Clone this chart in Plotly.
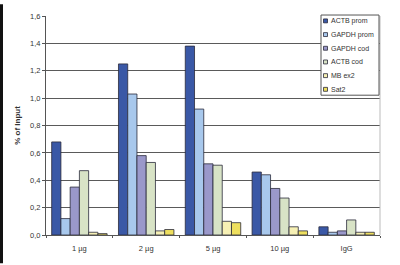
import plotly.graph_objects as go

categories = ["1 µg", "2 µg", "5 µg", "10 µg", "IgG"]
series_names = ["ACTB prom", "GAPDH prom", "GAPDH cod", "ACTB cod", "MB ex2", "Sat2"]
actb_prom = [0.68, 1.25, 1.38, 0.46, 0.06]
gapdh_prom = [0.12, 1.03, 0.92, 0.44, 0.02]
gapdh_cod = [0.35, 0.58, 0.52, 0.34, 0.03]
actb_cod = [0.47, 0.53, 0.51, 0.27, 0.11]
mb_ex2 = [0.02, 0.03, 0.10, 0.06, 0.02]
sat2 = [0.01, 0.04, 0.09, 0.03, 0.02]
y_ticks = [0.0, 0.2, 0.4, 0.6, 0.8, 1.0, 1.2, 1.4, 1.6]

colors = ["#3A58A6", "#A8C8EC", "#9A98CA", "#D8E3C6", "#F6F0B4", "#EEDF5E"]
values = [actb_prom, gapdh_prom, gapdh_cod, actb_cod, mb_ex2, sat2]
edge = "#2a2a3a"

fig = go.Figure()
for name, vals, col in zip(series_names, values, colors):
    fig.add_trace(go.Bar(
        x=categories, y=vals, name=name, showlegend=False,
        marker=dict(color=col, line=dict(color=edge, width=0.8)),
    ))

W, H = 400, 265
ml, mr, mt, mb = 46, 20, 12, 29
pw, ph = W - ml - mr, H - mt - mb


def px(x):
    return (x - ml) / pw


def py(y):
    return 1 - (y - mt) / ph


shapes = [
    dict(type="rect", xref="paper", yref="paper",
         x0=px(0), x1=px(3), y0=py(H), y1=py(0),
         fillcolor="#111", line=dict(width=0), layer="above"),
    dict(type="line", xref="paper", yref="paper",
         x0=1, x1=1, y0=0, y1=1, line=dict(color="#bbb", width=1)),
    dict(type="rect", xref="paper", yref="paper",
         x0=px(321), x1=px(379), y0=py(93), y1=py(11),
         fillcolor="white", line=dict(color="#555", width=1), layer="above"),
]
annotations = []
for i, (name, col) in enumerate(zip(series_names, colors)):
    yc = 17 + i * 14
    shapes.append(dict(type="rect", xref="paper", yref="paper",
                       x0=px(323.5), x1=px(327.5), y0=py(yc + 2), y1=py(yc - 2),
                       fillcolor=col, line=dict(color=edge, width=0.8), layer="above"))
    annotations.append(dict(xref="paper", yref="paper", x=px(329), y=py(yc),
                            xanchor="left", yanchor="middle", showarrow=False,
                            text=name, font=dict(size=7, color="#333")))

fig.update_layout(
    width=W, height=H,
    margin=dict(l=ml, r=mr, t=mt, b=mb, pad=0),
    barmode="group", bargap=0.17, bargroupgap=0,
    paper_bgcolor="white", plot_bgcolor="white",
    separators=",.",
    font=dict(family="Liberation Sans, Arial, sans-serif", size=7, color="#333"),
    showlegend=False,
    xaxis=dict(
        showgrid=False, showline=True, linecolor="#555", linewidth=1,
        ticks="outside", tickson="boundaries", ticklen=2, tickcolor="#555",
        ticklabelstandoff=6,
        tickfont=dict(size=7.5, color="#333"),
        range=[-0.5, 4.5],
    ),
    yaxis=dict(
        range=[0, 1.6], tickvals=y_ticks, tickformat=".1f",
        showgrid=True, gridcolor="#5a5a5a", gridwidth=1,
        showline=True, linecolor="#555", linewidth=1,
        ticks="outside", ticklen=3, tickcolor="#555",
        tickfont=dict(size=7.5, color="#333"),
        title=dict(text="<b>% of Input</b>", font=dict(size=8, color="#333"), standoff=8),
        zeroline=False,
    ),
    shapes=shapes,
    annotations=annotations,
)

fig.write_html("out.html")
